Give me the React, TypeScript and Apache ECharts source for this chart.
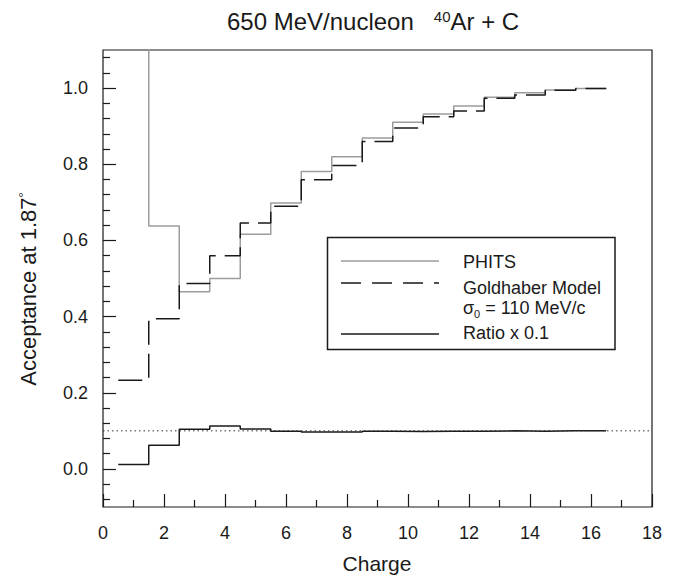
import React, { useEffect, useRef } from "react";
import * as echarts from "echarts";

// ---- Data ----
const CHARGES = [1, 2, 3, 4, 5, 6, 7, 8, 9, 10, 11, 12, 13, 14, 15, 16];
const PHITS = [2.0, 0.638, 0.465, 0.5, 0.616, 0.698, 0.781, 0.82, 0.869, 0.91, 0.932, 0.953, 0.976, 0.988, 0.995, 0.999];
const GOLDHABER = [0.233, 0.394, 0.487, 0.56, 0.646, 0.69, 0.759, 0.797, 0.86, 0.895, 0.925, 0.94, 0.973, 0.982, 0.994, 0.999];
const RATIO = [0.0115, 0.062, 0.104, 0.113, 0.105, 0.099, 0.097, 0.097, 0.099, 0.098, 0.099, 0.099, 0.1, 0.099, 0.1, 0.1];
const REFERENCE_LEVEL = 0.1;
const Y_TICK_LABELS = [0, 0.2, 0.4, 0.6, 0.8, 1.0];
const Y_MINOR_TICKS = [-0.08, -0.04, 0.04, 0.08, 0.12, 0.16, 0.24, 0.28, 0.32, 0.36, 0.44, 0.48, 0.52, 0.56, 0.64, 0.68, 0.72, 0.76, 0.84, 0.88, 0.92, 0.96, 1.04, 1.08];
const X_RANGE = [0, 18];
const Y_RANGE = [-0.1, 1.1];

const FONT = "'Liberation Sans', Arial, Helvetica, sans-serif";
const INK = "#1a1a1a";

const toSteps = (vals: number[]) =>
  CHARGES.flatMap((z, i) => [
    [z - 0.5, vals[i]],
    [z + 0.5, vals[i]],
  ]);

export default function App() {
  const ref = useRef<HTMLDivElement>(null);
  useEffect(() => {
    if (!ref.current) return;
    const chart = echarts.init(ref.current, null, { renderer: "svg" });
    const tickLine = { color: INK, width: 1.2 };
    chart.setOption({
      animation: false,
      backgroundColor: "#ffffff",
      grid: {
        show: true,
        left: 103,
        top: 50,
        right: 24,
        bottom: 71,
        borderColor: INK,
        borderWidth: 1.2,
        backgroundColor: "transparent",
      },
      xAxis: {
        type: "value",
        min: X_RANGE[0],
        max: X_RANGE[1],
        interval: 2,
        position: "bottom",
        axisLine: { show: false, onZero: false },
        splitLine: { show: false },
        axisTick: { show: true, inside: true, length: 13, lineStyle: tickLine },
        minorTick: { show: true, splitNumber: 2, length: 7, lineStyle: tickLine },
        axisLabel: { margin: 17, fontSize: 18, color: INK, fontFamily: FONT },
      },
      yAxis: [
        {
          type: "value",
          min: Y_RANGE[0],
          max: Y_RANGE[1],
          position: "left",
          axisLine: { show: false, onZero: false },
          splitLine: { show: false },
          axisTick: { show: true, inside: true, length: 13, lineStyle: tickLine, customValues: Y_TICK_LABELS },
          axisLabel: {
            customValues: Y_TICK_LABELS,
            formatter: (v: number) => v.toFixed(1),
            margin: 15,
            fontSize: 18,
            color: INK,
            fontFamily: FONT,
          },
        },
        {
          type: "value",
          min: Y_RANGE[0],
          max: Y_RANGE[1],
          position: "left",
          axisLine: { show: false, onZero: false },
          splitLine: { show: false },
          axisLabel: { show: false },
          axisTick: { show: true, inside: true, length: 7, lineStyle: tickLine, customValues: Y_MINOR_TICKS },
        },
      ],
      series: [
        {
          name: "PHITS",
          type: "line",
          data: toSteps(PHITS),
          showSymbol: false,
          clip: true,
          lineStyle: { color: "#9c9c9c", width: 1.5 },
        },
        {
          name: "Goldhaber Model",
          type: "line",
          data: toSteps(GOLDHABER),
          showSymbol: false,
          clip: true,
          lineStyle: { color: INK, width: 1.5, type: [24, 9] },
        },
        {
          name: "Ratio x 0.1",
          type: "line",
          data: toSteps(RATIO),
          showSymbol: false,
          clip: true,
          lineStyle: { color: INK, width: 1.5 },
        },
        {
          name: "reference",
          type: "line",
          data: [
            [X_RANGE[0], REFERENCE_LEVEL],
            [X_RANGE[1], REFERENCE_LEVEL],
          ],
          showSymbol: false,
          lineStyle: { color: "#333", width: 1, type: [1.5, 3] },
        },
      ],
      graphic: [
        {
          type: "text",
          x: 227,
          y: 21,
          style: {
            text: "650 MeV/nucleon   {sup|40}Ar + C",
            fontSize: 24,
            fontFamily: FONT,
            fill: INK,
            textAlign: "left",
            textVerticalAlign: "middle",
            rich: {
              sup: { fontSize: 15, fontFamily: FONT, fill: INK, verticalAlign: "top", lineHeight: 15 },
            },
          },
        },
        {
          type: "text",
          x: 377,
          y: 563,
          style: {
            text: "Charge",
            fontSize: 21,
            fontFamily: FONT,
            fill: INK,
            textAlign: "center",
            textVerticalAlign: "middle",
          },
        },
        {
          type: "text",
          x: 28,
          y: 289,
          rotation: Math.PI / 2,
          style: {
            text: "Acceptance at 1.87{sup|°}",
            fontSize: 22,
            fontFamily: FONT,
            fill: INK,
            textAlign: "center",
            textVerticalAlign: "middle",
            rich: {
              sup: { fontSize: 13, fontFamily: FONT, fill: INK, verticalAlign: "top", lineHeight: 13 },
            },
          },
        },
        {
          type: "rect",
          shape: { x: 327.5, y: 237.5, width: 287.5, height: 112 },
          style: { fill: "transparent", stroke: INK, lineWidth: 1.5 },
        },
        {
          type: "line",
          shape: { x1: 341, y1: 261, x2: 439, y2: 261 },
          style: { stroke: "#9c9c9c", lineWidth: 1.5 },
        },
        {
          type: "line",
          shape: { x1: 341, y1: 283, x2: 439, y2: 283 },
          style: { stroke: INK, lineWidth: 1.5, lineDash: [20, 11] },
        },
        {
          type: "line",
          shape: { x1: 341, y1: 334, x2: 439, y2: 334 },
          style: { stroke: INK, lineWidth: 1.5 },
        },
        {
          type: "text",
          x: 463,
          y: 262,
          style: { text: "PHITS", fontSize: 18, fontFamily: FONT, fill: INK, textAlign: "left", textVerticalAlign: "middle" },
        },
        {
          type: "text",
          x: 463,
          y: 288,
          style: { text: "Goldhaber Model", fontSize: 18, fontFamily: FONT, fill: INK, textAlign: "left", textVerticalAlign: "middle" },
        },
        {
          type: "text",
          x: 463,
          y: 308,
          style: {
            text: "{t|σ}{sub|0}{t| = 110 MeV/c}",
            fontSize: 18,
            fontFamily: FONT,
            fill: INK,
            textAlign: "left",
            textVerticalAlign: "middle",
            rich: {
              t: { fontSize: 18, fontFamily: FONT, fill: INK, lineHeight: 23 },
              sub: { fontSize: 11, fontFamily: FONT, fill: INK, verticalAlign: "bottom", lineHeight: 11 },
            },
          },
        },
        {
          type: "text",
          x: 463,
          y: 333,
          style: { text: "Ratio x 0.1", fontSize: 18, fontFamily: FONT, fill: INK, textAlign: "left", textVerticalAlign: "middle" },
        },
      ],
    });
    return () => chart.dispose();
  }, []);
  return (
    <div
      ref={ref}
      style={{ position: "fixed", left: 0, top: 0, width: 676, height: 578, background: "#fff" }}
    />
  );
}
